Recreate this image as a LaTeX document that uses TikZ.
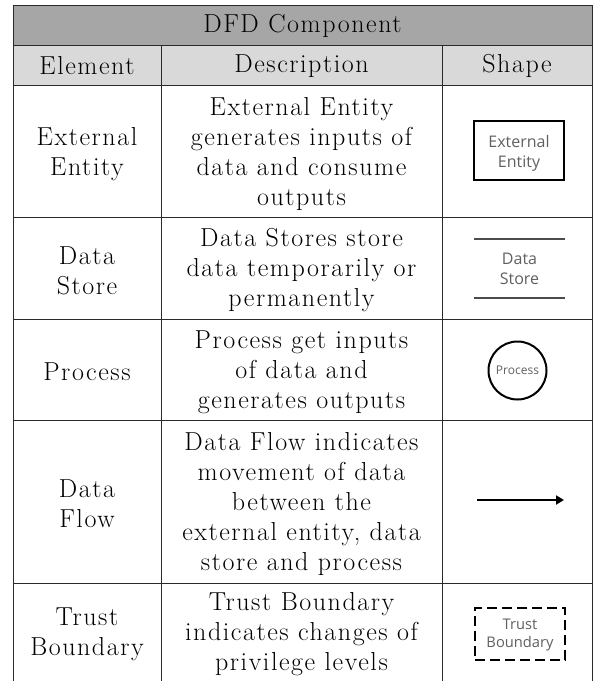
\documentclass[tikz,border=0pt]{standalone}
\usepackage{fontspec}
\setmainfont{Latin Modern Roman}[LetterSpace=6]
\newfontfamily\shapefont{Open Sans}
\usetikzlibrary{arrows.meta}
\definecolor{hdrgray}{HTML}{A6A6A6}
\definecolor{subgray}{HTML}{D9D9D9}
\definecolor{gridline}{HTML}{2A2A2A}
\definecolor{shapetext}{HTML}{606060}
\tikzset{
  celltext/.style={align=center,inner sep=0pt,font=\fontsize{26}{30}\selectfont},
  grid/.style={draw=gridline,line width=1pt},
  shapelabel/.style={align=center,inner sep=0pt,text=shapetext,font=\shapefont\fontsize{16}{20}\selectfont},
  smalllabel/.style={align=center,inner sep=0pt,text=shapetext,font=\shapefont\fontsize{12}{15}\selectfont},
}
\begin{document}
\begin{tikzpicture}[x=1pt,y=-1pt]
\useasboundingbox (0,0) rectangle (594,681);
% backgrounds
\fill[hdrgray] (13,5) rectangle (592,45);
\fill[subgray] (13,45) rectangle (592,85);
% grid
\draw[grid] (13,681) -- (13,5) -- (592,5) -- (592,681);
\foreach \yy in {45,85,217,319,420,583} \draw[grid] (13,\yy) -- (592,\yy);
\draw[grid] (161,45) -- (161,681);
\draw[grid] (442,45) -- (442,681);
% header
\node[celltext] (title) at (302.5,26) {DFD Component};
\node[celltext] (hElem) at (87,66) {Element};
\node[celltext] (hDesc) at (301.5,66) {Description};
\node[celltext] (hShape) at (517,66) {Shape};
% row 1
\node[celltext] (eExt) at (87,154) {External\\Entity};
\node[celltext] (dExt) at (301.5,154) {External Entity\\generates inputs of\\data and consume\\outputs};
\node[draw,line width=2.8pt,minimum width=90pt,minimum height=59pt,inner sep=0pt] (sExt) at (519,150.5) {};
\node[shapelabel] (sExtT) at (519,153) {External\\Entity};
% row 2
\node[celltext] (eDS) at (87,270.5) {Data\\Store};
\node[celltext] (dDS) at (301.5,270.5) {Data Stores store\\data temporarily or\\permanently};
\coordinate (dsA) at (474,239);
\coordinate (dsB) at (565,239);
\coordinate (dsC) at (474,298);
\coordinate (dsD) at (565,298);
\draw[line width=2pt,draw=black!70] (dsA) -- (dsB);
\draw[line width=2pt,draw=black!70] (dsC) -- (dsD);
\node[shapelabel] (sDS) at (519.5,269) {Data\\Store};
% row 3
\node[celltext] (eProc) at (87,372) {Process};
\node[celltext] (dProc) at (301.5,372) {Process get inputs\\of data and\\generates outputs};
\node[draw,circle,line width=2pt,minimum size=58pt,inner sep=0pt] (sProc) at (517.5,370.5) {};
\node[smalllabel] (sProcT) at (sProc) {Process};
% row 4
\node[celltext] (eFlow) at (87,504) {Data\\Flow};
\node[celltext] (dFlow) at (301.5,504) {Data Flow indicates\\movement of data\\between the\\external entity, data\\store and process};
\coordinate (fA) at (477,500);
\coordinate (fB) at (564,500);
\draw[line width=2.8pt,-{Triangle[length=8pt,width=9pt]}] (fA) -- (fB);
% row 5
\node[celltext] (eTB) at (87,634.5) {Trust\\Boundary};
\node[celltext] (dTB) at (301.5,634.5) {Trust Boundary\\indicates changes of\\privilege levels};
\node[draw,line width=2.8pt,dash pattern=on 10pt off 5pt,minimum width=90pt,minimum height=52pt,inner sep=0pt] (sTB) at (520,634) {};
\node[smalllabel,font=\shapefont\fontsize{14.7}{18}\selectfont] (sTBT) at (520,635) {Trust\\Boundary};
\end{tikzpicture}
\end{document}
